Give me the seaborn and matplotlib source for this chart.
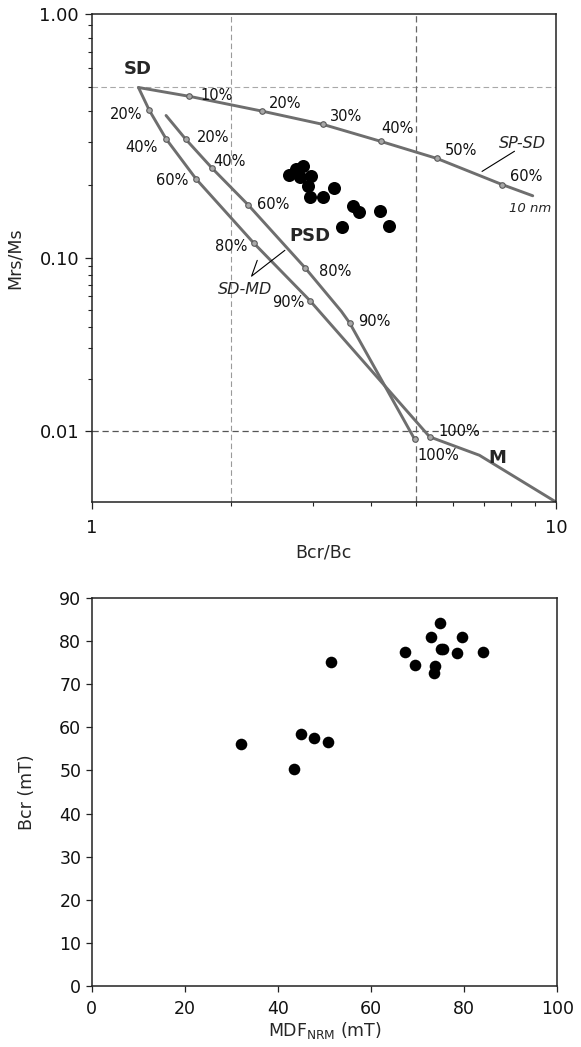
import numpy as np
import pandas as pd
import matplotlib
matplotlib.use("Agg")
import matplotlib.pyplot as plt
import seaborn as sns

# ---------------- data: Day plot ----------------
# SP-SD mixing curve (Bcr/Bc, Mrs/Ms), labels ('' = no marker)
spsd_x = [1.262, 1.624, 2.33, 3.15, 4.19, 5.54, 7.66, 8.91]
spsd_y = [0.50, 0.46, 0.40, 0.353, 0.301, 0.256, 0.200, 0.180]
spsd_lab = ["", "10%", "20%", "30%", "40%", "50%", "60%", ""]

# SD-MD mixing curve 1 (starts at SD)
sdmd1_x = [1.262, 1.332, 1.447, 1.679, 2.237, 2.951, 5.344]
sdmd1_y = [0.50, 0.403, 0.308, 0.211, 0.115, 0.0568, 0.00923]
sdmd1_lab = ["", "20%", "40%", "60%", "80%", "90%", "100%"]

# SD-MD mixing curve 2
sdmd2_x = [1.447, 1.595, 1.82, 2.175, 2.883, 3.45, 3.596, 4.96]
sdmd2_y = [0.384, 0.307, 0.233, 0.165, 0.0878, 0.0492, 0.0421, 0.00895]
sdmd2_lab = ["", "20%", "40%", "60%", "80%", "", "90%", "100%"]

# MD trend
md_x = [5.344, 6.84, 10.0]
md_y = [0.00923, 0.00722, 0.00387]

# samples (Bcr/Bc, Mrs/Ms)
day_bcr_bc = [2.66, 2.754, 2.850, 2.808, 2.966, 2.922, 2.951, 3.146, 3.323,
              3.650, 3.761, 4.173, 4.362, 3.457]
day_mrs_ms = [0.2196, 0.2325, 0.2391, 0.2154, 0.2175, 0.1978, 0.1782, 0.1782,
              0.1941, 0.1637, 0.1546, 0.1561, 0.1354, 0.1341]

# ---------------- data: MDF vs Bcr ----------------
mdf_nrm = [32.0, 43.5, 44.9, 47.7, 50.8, 51.4, 67.3, 69.4, 72.8, 74.8, 73.8,
           73.5, 75.0, 75.5, 79.5, 78.4, 84.1]
bcr_mt = [56.1, 50.3, 58.5, 57.5, 56.6, 75.1, 77.5, 74.4, 80.9, 84.2, 74.3,
          72.6, 78.2, 78.2, 80.9, 77.2, 77.5]

# ---------------- style ----------------
sns.set_style("ticks")
plt.rcParams["font.family"] = ["DejaVu Sans"]
plt.rcParams["axes.linewidth"] = 1.1
plt.rcParams["axes.edgecolor"] = "#222222"
plt.rcParams["xtick.color"] = "#222222"
plt.rcParams["ytick.color"] = "#222222"
plt.rcParams["xtick.labelcolor"] = "#111111"
plt.rcParams["ytick.labelcolor"] = "#111111"

LINE = "#6e6e6e"
DOTFACE = "#a8a8a8"
DOTEDGE = "#5a5a5a"

fig = plt.figure(figsize=(5.81, 10.47), dpi=100)
ax1 = fig.add_axes([0.1575, 0.5205, 0.7995, 0.4661])
ax2 = fig.add_axes([0.1578, 0.0585, 0.8014, 0.3701])

# piecewise log y-scale (lower decade compressed as in the original)
R = 172.0 / 243.0


def fwd(y):
    y = np.asarray(y, dtype=float)
    t = np.log10(np.clip(y, 1e-12, None))
    return np.where(t >= -1, t, -1 + (t + 1) * R)


def inv(u):
    u = np.asarray(u, dtype=float)
    return np.where(u >= -1, 10.0 ** u, 10.0 ** (-1 + (u + 1) / R))


ax1.set_xscale("log")
ax1.set_yscale("function", functions=(fwd, inv))
ax1.set_xlim(1, 10)
ax1.set_ylim(0.00387, 1.0)

# reference dashed lines
ax1.axvline(2, color="#9a9a9a", lw=0.8, ls=(0, (5, 3)), zorder=0)
ax1.axhline(0.5, color="#a8a8a8", lw=0.8, ls=(0, (5, 3)), zorder=0)
ax1.axvline(5, color="#666666", lw=0.9, ls=(0, (5, 3)), zorder=0)
ax1.axhline(0.01, color="#555555", lw=0.9, ls=(0, (5, 3)), zorder=0)

for xs, ys in [(spsd_x, spsd_y), (sdmd1_x, sdmd1_y), (sdmd2_x, sdmd2_y), (md_x, md_y)]:
    sns.lineplot(x=xs, y=ys, sort=False, estimator=None, ax=ax1,
                 color=LINE, lw=2.1, zorder=2)

for xs, ys, labs in [(spsd_x, spsd_y, spsd_lab), (sdmd1_x, sdmd1_y, sdmd1_lab),
                     (sdmd2_x, sdmd2_y, sdmd2_lab)]:
    mx = [x for x, l in zip(xs, labs) if l]
    my = [y for y, l in zip(ys, labs) if l]
    sns.scatterplot(x=mx, y=my, ax=ax1, s=16, color=DOTFACE,
                    edgecolor=DOTEDGE, linewidth=0.8, zorder=3)

sns.scatterplot(x=day_bcr_bc, y=day_mrs_ms, ax=ax1, s=88, color="black",
                edgecolor="black", linewidth=0, zorder=4)

# percent labels
pct_fs = 10.5
spsd_text = [("10%", 1.859, 0.464), ("20%", 2.608, 0.430), ("30%", 3.526, 0.3815),
             ("40%", 4.566, 0.3386), ("50%", 6.25, 0.2757), ("60%", 8.62, 0.2154)]
sdmd1_text = [("20%", 1.187, 0.388), ("40%", 1.283, 0.2844), ("60%", 1.489, 0.2074),
              ("80%", 2.003, 0.112), ("90%", 2.651, 0.055), ("100%", 6.18, 0.00987)]
sdmd2_text = [("20%", 1.823, 0.311), ("40%", 1.986, 0.249), ("60%", 2.461, 0.1652),
              ("80%", 3.339, 0.084), ("90%", 4.07, 0.043), ("100%", 5.567, 0.00716)]
for t, x, y in spsd_text + sdmd1_text + sdmd2_text:
    ax1.text(x, y, t, fontsize=pct_fs, ha="center", va="center", color="#111111",
             zorder=5)

ax1.text(1.256, 0.598, "SD", fontsize=13, fontweight="bold", ha="center", va="center")
ax1.text(2.951, 0.123, "PSD", fontsize=13, fontweight="bold", ha="center", va="center")
ax1.text(7.49, 0.00697, "M", fontsize=13, fontweight="bold", ha="center", va="center")
ax1.text(8.47, 0.2945, "SP-SD", fontsize=11.5, style="italic", ha="center", va="center")
ax1.text(8.79, 0.159, "10 nm", fontsize=9.5, style="italic", ha="center", va="center")
ax1.text(2.14, 0.0658, "SD-MD", fontsize=11.5, style="italic", ha="center", va="center")

# leader lines
ax1.plot([8.14, 6.93], [0.274, 0.2265], color="black", lw=0.8)
ax1.plot([2.274, 2.211, 2.608], [0.097, 0.0786, 0.1076], color="black", lw=0.8)

ax1.set_xticks([1, 10])
ax1.set_xticklabels(["1", "10"])
ax1.set_xticks([2, 3, 4, 5, 6, 7, 8, 9], minor=True)
ax1.xaxis.set_minor_formatter(matplotlib.ticker.NullFormatter())
ax1.set_yticks([0.01, 0.1, 1.0])
ax1.set_yticklabels(["0.01", "0.10", "1.00"])
ax1.set_yticks([k * 0.01 for k in range(2, 10)] + [k * 0.1 for k in range(2, 10)],
               minor=True)
ax1.yaxis.set_minor_formatter(matplotlib.ticker.NullFormatter())
ax1.tick_params(which="major", length=5, width=0.9, labelsize=13, pad=4)
ax1.tick_params(which="minor", length=3, width=0.8)
ax1.tick_params(axis="x", which="major", pad=7)
ax1.set_xlabel("Bcr/Bc", fontsize=12.5)
ax1.set_ylabel("Mrs/Ms", fontsize=12.5)
ax1.xaxis.set_label_coords(0.5, -0.085)
ax1.yaxis.set_label_coords(-0.145, 0.5)
for s in ax1.spines.values():
    s.set_visible(True)

# ---------------- bottom panel ----------------
sns.scatterplot(x=mdf_nrm, y=bcr_mt, ax=ax2, s=70, color="black",
                edgecolor="black", linewidth=0, zorder=3)
ax2.set_xlim(0, 100)
ax2.set_ylim(0, 90)
ax2.set_xticks(range(0, 101, 20))
ax2.set_yticks(range(0, 91, 10))
ax2.tick_params(which="major", length=4.5, width=0.9, labelsize=12.5, pad=3)
ax2.tick_params(axis="x", pad=6)
ax2.set_xlabel("MDF$_{\\mathregular{NRM}}$ (mT)", fontsize=12.5)
ax2.set_ylabel("Bcr (mT)", fontsize=12.5)
ax2.xaxis.set_label_coords(0.5, -0.088)
ax2.yaxis.set_label_coords(-0.12, 0.5)
for s in ax2.spines.values():
    s.set_visible(True)

fig.savefig("out.png", dpi=100)
